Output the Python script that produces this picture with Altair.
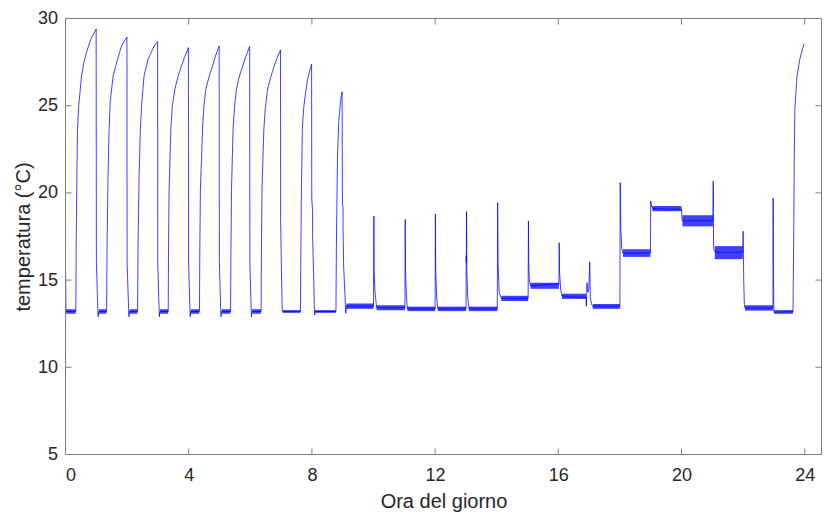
import altair as alt
import pandas as pd

# main trace: hour of day, temperature (°C)
TIME_H = [
    0.0, 0.003, 0.012, 0.335, 0.35, 0.37, 0.39, 0.43, 0.52, 0.60, 0.68, 0.82, 0.995,
    1.003, 1.05, 1.06, 1.075, 1.335, 1.35, 1.38, 1.416, 1.45, 1.545, 1.69, 1.82, 1.995,
    2.0, 2.05, 2.06, 2.075, 2.34, 2.355, 2.39, 2.43, 2.47, 2.55, 2.68, 2.88, 2.99,
    2.995, 3.04, 3.05, 3.065, 3.335, 3.345, 3.364, 3.42, 3.47, 3.55, 3.64, 3.73, 3.86, 3.99,
    3.995, 4.04, 4.05, 4.065, 4.35, 4.36, 4.38, 4.45, 4.49, 4.555, 4.65, 4.74, 4.87, 4.99,
    4.995, 5.04, 5.05, 5.065, 5.36, 5.37, 5.39, 5.44, 5.49, 5.55, 5.63, 5.72, 5.85, 5.98,
    5.985, 6.03, 6.04, 6.055, 6.35, 6.36, 6.38, 6.44, 6.49, 6.56, 6.65, 6.74, 6.86, 6.98,
    6.985, 6.99, 7.03, 7.04, 7.63, 7.64, 7.66, 7.69, 7.73, 7.78, 7.86, 7.93, 7.99,
    7.995, 8.02, 8.025, 8.08, 8.09, 8.1, 8.78, 8.795, 8.83, 8.87, 8.91, 8.95, 8.98,
    8.99, 9.01, 9.012, 9.03, 9.1, 9.12, 10.0, 10.012, 10.02, 10.05, 10.1,
    11.02, 11.03, 11.04, 11.07, 11.1, 12.0, 12.01, 12.02, 12.05, 12.09,
    13.005, 13.01, 13.015, 13.02, 13.03, 13.06, 13.1, 14.02, 14.03, 14.045, 14.08, 14.15,
    15.02, 15.03, 15.04, 15.06, 15.1, 15.98, 16.02, 16.03, 16.04, 16.08, 16.12,
    16.9, 16.91, 16.93, 16.96, 16.99, 17.02, 17.04, 17.08, 17.12,
    18.0, 18.01, 18.02, 18.03, 18.06, 18.1, 18.99, 19.0, 19.03, 19.08,
    20.0, 20.02, 21.02, 21.03, 21.04, 21.05, 21.1, 21.99, 22.0, 22.02, 22.04, 22.06,
    22.97, 22.975, 22.98, 22.99, 23.0, 23.62, 23.64, 23.66, 23.68, 23.75, 23.84, 23.92, 23.98,
]
TEMP_C = [
    7.4, 15.5, 13.2, 13.2, 17.5, 21.0, 23.65, 25.0, 26.7, 27.5, 28.05, 28.8, 29.4,
    16.0, 13.3, 12.9, 13.2, 13.2, 17.0, 21.0, 23.65, 25.2, 26.7, 27.66, 28.43, 28.94,
    16.0, 13.3, 12.9, 13.2, 13.2, 17.0, 21.0, 23.65, 25.0, 26.7, 27.66, 28.43, 28.68,
    16.0, 13.3, 12.9, 13.2, 13.2, 17.0, 20.2, 23.65, 25.0, 25.94, 26.6, 27.09, 27.75, 28.33,
    16.0, 13.3, 12.9, 13.2, 13.2, 16.5, 20.2, 23.65, 24.9, 25.94, 26.6, 27.09, 27.85, 28.43,
    16.0, 13.3, 12.9, 13.2, 13.2, 16.5, 20.2, 23.65, 25.0, 25.94, 26.6, 27.09, 27.8, 28.4,
    16.0, 13.3, 12.9, 13.2, 13.2, 16.5, 20.2, 23.65, 24.9, 25.94, 26.55, 27.09, 27.7, 28.2,
    18.3, 17.9, 13.6, 13.2, 13.2, 16.5, 20.2, 23.65, 24.8, 25.56, 26.51, 27.0, 27.38,
    19.7, 19.0, 17.5, 13.4, 13.0, 13.2, 13.2, 17.0, 22.0, 24.0, 24.9, 25.5, 25.8,
    19.3, 19.25, 17.9, 15.8, 13.1, 13.5, 13.5, 18.67, 15.5, 14.3, 13.42,
    13.42, 18.48, 15.5, 14.0, 13.35, 13.35, 18.8, 15.5, 14.0, 13.35,
    13.35, 16.4, 16.0, 18.93, 15.5, 14.0, 13.35, 13.35, 19.44, 16.0, 14.3, 13.95,
    13.95, 18.39, 16.0, 15.0, 14.66, 14.8, 14.75, 17.15, 15.5, 14.4, 14.08,
    14.0, 13.5, 14.85, 14.3, 14.5, 16.05, 14.0, 13.6, 13.5,
    13.5, 20.59, 19.0, 17.9, 16.8, 16.55, 16.55, 19.53, 19.2, 19.1,
    19.05, 18.4, 18.4, 20.68, 17.2, 16.75, 16.6, 16.6, 17.8, 15.0, 13.6, 13.4,
    13.4, 19.69, 17.0, 14.5, 13.15, 13.2, 17.0, 22.0, 24.8, 26.7, 27.66, 28.2, 28.56,
]

# envelopes of the noisy flat stretches
BAND_START = [0.02, 1.08, 2.08, 3.07, 4.07, 5.07, 6.06, 7.05, 8.1, 9.12, 10.1, 11.1,
              12.09, 13.1, 14.15, 15.1, 16.12, 17.12, 18.1, 19.05, 20.03, 21.08, 22.06, 23.01]
BAND_END = [0.33, 1.33, 2.335, 3.33, 4.345, 5.355, 6.345, 7.625, 8.775, 10.0, 11.02, 12.0,
            13.0, 14.02, 15.02, 16.02, 16.9, 18.0, 18.99, 20.0, 21.02, 21.99, 22.97, 23.62]
BAND_LOW = [13.07, 13.07, 13.07, 13.07, 13.07, 13.07, 13.07, 13.12, 13.12, 13.35, 13.27, 13.22,
            13.22, 13.22, 13.8, 14.5, 13.92, 13.35, 16.33, 18.95, 18.08, 16.2, 13.25, 13.07]
BAND_HIGH = [13.33, 13.33, 13.33, 13.33, 13.33, 13.33, 13.33, 13.28, 13.28, 13.66, 13.56, 13.48,
             13.48, 13.48, 14.1, 14.85, 14.22, 13.63, 16.77, 19.25, 18.72, 16.95, 13.56, 13.28]

X_TICKS = [0, 4, 8, 12, 16, 20, 24]
Y_TICKS = [5, 10, 15, 20, 25, 30]
X_MIN, X_MAX = 0, 24.545
Y_MIN, Y_MAX = 5, 30

line_df = pd.DataFrame({"ora": TIME_H, "temp": TEMP_C})
band_rows = []
for i, (s, e, lo, hi) in enumerate(zip(BAND_START, BAND_END, BAND_LOW, BAND_HIGH)):
    band_rows.append({"ora": s, "lo": lo, "hi": hi, "seg": i})
    band_rows.append({"ora": e, "lo": lo, "hi": hi, "seg": i})
band_df = pd.DataFrame(band_rows)

# MATLAB-style box with inward ticks, built from the scale domain and tick lists
TL_X = 0.195   # tick length along x (hours)
TL_Y = 0.345   # tick length along y (°C)
box_rows = [
    {"ora": X_MIN, "ora2": X_MAX, "temp": Y_MIN, "temp2": Y_MIN},
    {"ora": X_MIN, "ora2": X_MAX, "temp": Y_MAX, "temp2": Y_MAX},
    {"ora": X_MIN, "ora2": X_MIN, "temp": Y_MIN, "temp2": Y_MAX},
    {"ora": X_MAX, "ora2": X_MAX, "temp": Y_MIN, "temp2": Y_MAX},
]
for t in X_TICKS:
    box_rows.append({"ora": t, "ora2": t, "temp": Y_MIN, "temp2": Y_MIN + TL_Y})
    box_rows.append({"ora": t, "ora2": t, "temp": Y_MAX, "temp2": Y_MAX - TL_Y})
for v in Y_TICKS:
    box_rows.append({"ora": X_MIN, "ora2": X_MIN + TL_X, "temp": v, "temp2": v})
    box_rows.append({"ora": X_MAX, "ora2": X_MAX - TL_X, "temp": v, "temp2": v})
box_df = pd.DataFrame(box_rows)

AX = "#808080"
TXT = "#262626"
FONT = "Liberation Sans"

xscale = alt.Scale(domain=[X_MIN, X_MAX], nice=False, zero=False)
yscale = alt.Scale(domain=[Y_MIN, Y_MAX], nice=False, zero=False)

x_axis = alt.Axis(values=X_TICKS, grid=False, domain=False, ticks=False,
                  title="Ora del giorno", labelPadding=12, labelColor=TXT,
                  labelFontSize=18, labelFont=FONT, titleFont=FONT, titleFontSize=20,
                  titleColor=TXT, titleFontWeight="normal", titlePadding=7)
y_axis = alt.Axis(values=Y_TICKS, grid=False, domain=False, ticks=False,
                  title="temperatura (°C)", labelPadding=8, labelColor=TXT,
                  labelFontSize=18, labelFont=FONT, titleFont=FONT, titleFontSize=20,
                  titleColor=TXT, titleFontWeight="normal", titlePadding=4)

band = alt.Chart(band_df).mark_area(color="#0000ff", opacity=0.75).encode(
    x=alt.X("ora:Q", scale=xscale, axis=x_axis),
    y=alt.Y("lo:Q", scale=yscale, axis=y_axis),
    y2="hi:Q",
    detail="seg:N",
)

line = alt.Chart(line_df).mark_line(color="#0000ff", strokeWidth=0.75).encode(
    x=alt.X("ora:Q", scale=xscale, axis=x_axis),
    y=alt.Y("temp:Q", scale=yscale, axis=y_axis),
    order="ora:Q",
)

box = alt.Chart(box_df).mark_rule(color=AX, strokeWidth=1).encode(
    x=alt.X("ora:Q", scale=xscale, axis=x_axis),
    x2="ora2:Q",
    y=alt.Y("temp:Q", scale=yscale, axis=y_axis),
    y2="temp2:Q",
)

chart = alt.layer(band, line, box).properties(
    width=756,
    height=436,
    autosize=alt.AutoSizeParams(type="none"),
    padding={"left": 57.5, "top": 10.5, "right": 0, "bottom": 62},
    background="#ffffff",
).configure_view(stroke=None)

chart.save("out.html", embed_options={"renderer": "svg", "actions": False})
